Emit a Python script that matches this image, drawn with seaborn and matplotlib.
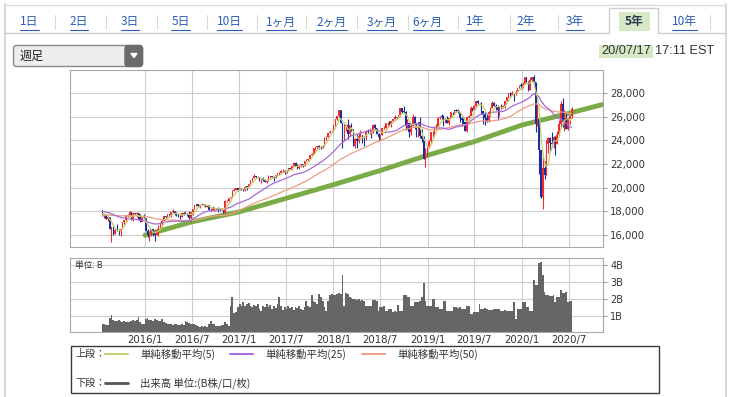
import numpy as np
import pandas as pd
import matplotlib
matplotlib.use("Agg")
import matplotlib.pyplot as plt
import matplotlib.dates as mdates
from matplotlib.patches import Rectangle, FancyBboxPatch, Polygon
import seaborn as sns

sns.set_style("white")
plt.rcParams["font.family"] = ["DejaVu Sans"]
JP = ["Noto Sans CJK JP", "DejaVu Sans"]

W, H = 739, 397

# ---- weekly data (week starting 2015-07-20 ... 2020-07-13) ----
first_week = "2015-07-20"

# closes of the 50 weeks before the window (for the moving averages)
prior_closes = [
    16553, 16662, 17001, 17098, 17138, 16988, 17280, 17113, 17009, 16544,
    16380, 16805, 17391, 17573, 17635, 17810, 17828, 17958, 17280, 17804,
    18054, 17833, 17737, 17512, 17672, 17165, 17824, 18019, 18140, 18133,
    17856, 17749, 18128, 17713, 17763, 18057, 17826, 18080, 18024, 18191,
    18272, 18232, 18011, 17849, 17898, 18016, 17947, 17730, 17760, 18086,
]

closes = [
    17568, 17690, 17373, 17477, 16460, 16643, 16102, 16433, 16385, 16315,
    16472, 17084, 17216, 17647, 17664, 17910, 17245, 17824, 17798, 17848,
    17265, 17128, 17552, 17425, 16347, 15988, 16094, 16466, 16205, 15974,
    16392, 16640, 17007, 17213, 17602, 17516, 17793, 17577, 17898, 18004,
    17774, 17740, 17535, 17501, 17873, 17807, 17865, 17675, 17400, 17949,
    18147, 18517, 18571, 18432, 18544, 18577, 18553, 18395, 18492, 18085,
    18124, 18262, 18308, 18240, 18138, 18146, 18161, 17888, 18848, 18868,
    19153, 19171, 19757, 19843, 19934, 19763, 19964, 19886, 19827, 20094,
    20071, 20269, 20624, 20822, 21005, 20903, 20915, 20597, 20663, 20656,
    20453, 20548, 20941, 21007, 20897, 20805, 21080, 21206, 21272, 21384,
    21395, 21350, 21414, 21638, 21580, 21830, 22092, 21858, 21675, 21814,
    21988, 21798, 22268, 22350, 22405, 22774, 22872, 23329, 23434, 23539,
    23422, 23358, 23558, 24231, 24329, 24652, 24754, 24719, 25296, 25803,
    26072, 26617, 25521, 24191, 25219, 25310, 24538, 25336, 24947, 23533,
    24103, 23933, 24360, 24463, 24311, 24263, 24831, 24715, 24753, 24635,
    25317, 25090, 24581, 24271, 24456, 25019, 25058, 25451, 25463, 25313,
    25669, 25790, 25965, 25917, 26155, 26744, 26458, 26447, 25340, 25444,
    24688, 25271, 25989, 25413, 24286, 25538, 24389, 24101, 22445, 23062,
    23433, 23996, 24706, 24737, 25064, 25106, 25883, 26031, 26026, 25450,
    25849, 25502, 25929, 26425, 26412, 26559, 26543, 26505, 25942, 25764,
    25586, 24815, 25984, 26090, 26719, 26600, 26922, 27332, 27154, 27192,
    26485, 26287, 25886, 25629, 26403, 26797, 27220, 26935, 26820, 26573,
    26817, 26770, 26958, 27347, 27681, 28005, 27876, 28051, 28015, 28135,
    28455, 28645, 28634, 28824, 29348, 28990, 28256, 29103, 29398, 28992,
    25409, 25865, 23186, 19174, 21637, 21053, 23719, 24242, 23775, 23724,
    24331, 23685, 24465, 25383, 27111, 25606, 25871, 25016, 25827, 26075,
    26672,
]

highs = [
    18130, 17780, 17750, 17560, 17520, 16700, 16650, 16500, 16930, 16530,
    16500, 17100, 17250, 17680, 17800, 17980, 17920, 17850, 17890, 17900,
    17850, 17780, 17560, 17750, 17430, 16530, 16120, 16500, 16510, 16240,
    16480, 16800, 17060, 17240, 17620, 17630, 17800, 17800, 17920, 18170,
    18040, 17930, 17820, 17640, 17890, 17930, 18000, 17870, 18010, 17960,
    18160, 18540, 18620, 18580, 18560, 18670, 18640, 18580, 18500, 18540,
    18280, 18450, 18340, 18310, 18400, 18250, 18250, 18160, 18930, 18930,
    19160, 19230, 19770, 19970, 20000, 19950, 19990, 19980, 19900, 20130,
    20130, 20300, 20640, 20830, 21170, 21010, 20980, 20920, 20760, 20890,
    20720, 20650, 21070, 21010, 21020, 21010, 21110, 21230, 21310, 21530,
    21540, 21480, 21480, 21680, 21680, 21830, 22180, 22180, 22010, 21900,
    22000, 21980, 22280, 22420, 22410, 22780, 22900, 23330, 23490, 23560,
    23600, 23500, 23600, 24330, 24400, 24670, 24880, 24840, 25300, 25810,
    26090, 26620, 26610, 25520, 25430, 25440, 25800, 25350, 25450, 25010,
    24200, 24540, 24620, 24860, 24490, 24400, 24900, 24960, 25090, 24800,
    25400, 25400, 25090, 24600, 24480, 25060, 25200, 25500, 25530, 25630,
    25690, 25850, 26170, 26000, 26190, 26770, 26790, 26950, 26530, 25800,
    25460, 25500, 26280, 26080, 25420, 25540, 25980, 24950, 24390, 23380,
    23480, 24070, 24720, 24800, 25250, 25410, 25890, 26060, 26240, 26150,
    25900, 26110, 25950, 26430, 26430, 26600, 26700, 26700, 26400, 25960,
    25900, 25600, 26000, 26200, 26900, 26760, 26980, 27340, 27400, 27200,
    27250, 26500, 26450, 26230, 26480, 26840, 27310, 27230, 27080, 26990,
    26960, 27100, 26980, 27350, 27700, 28030, 28090, 28170, 28070, 28290,
    28460, 28700, 28870, 28960, 29370, 29370, 29060, 29410, 29420, 29570,
    28950, 27100, 25760, 23190, 22600, 22290, 24010, 24260, 24270, 24760,
    24370, 24360, 24770, 25760, 27340, 27580, 26610, 26250, 26020, 26200,
    26880,
]

lows = [
    17560, 17400, 17330, 17140, 16450, 15370, 16000, 16050, 16340, 15980,
    15940, 16470, 16910, 17140, 17510, 17650, 17240, 17210, 17700, 17470,
    17250, 17120, 17130, 17420, 16340, 15840, 15450, 15880, 15900, 15500,
    15970, 15900, 16540, 16820, 17180, 17420, 17480, 17480, 17540, 17870,
    17650, 17630, 17520, 17330, 17490, 17690, 17810, 17600, 17360, 17060,
    17710, 18150, 18420, 18390, 18250, 18510, 18460, 18330, 18330, 18080,
    17990, 18120, 18010, 18160, 17960, 18040, 18100, 17880, 17880, 18810,
    18900, 19010, 19200, 19740, 19840, 19720, 19780, 19830, 19730, 19750,
    19830, 20040, 20270, 20600, 20790, 20830, 20830, 20560, 20410, 20560,
    20450, 20380, 20550, 20860, 20870, 20550, 20810, 20990, 21100, 21210,
    21360, 21200, 21280, 21400, 21540, 21500, 21850, 21840, 21600, 21600,
    21750, 21710, 21800, 22250, 22260, 22400, 22740, 22860, 23200, 23320,
    23250, 23240, 23350, 23530, 24060, 24300, 24640, 24690, 24790, 25230,
    25700, 26000, 25490, 23360, 24050, 24780, 24120, 24340, 24800, 23510,
    23340, 23340, 23800, 24300, 23820, 23530, 24080, 24610, 24550, 24200,
    24630, 24900, 24530, 23990, 24080, 24450, 24980, 24910, 25120, 25240,
    25130, 25590, 25800, 25790, 25910, 26060, 26360, 26320, 24900, 25000,
    24270, 24440, 25200, 25000, 24270, 24290, 24240, 23880, 22400, 21710,
    22640, 23330, 23700, 24280, 24370, 24880, 24990, 25800, 25820, 25210,
    25450, 25500, 25320, 25960, 26140, 26340, 26400, 26300, 25570, 25220,
    25330, 24800, 24680, 25950, 26060, 26480, 26700, 26720, 27090, 26970,
    26250, 25440, 25340, 25600, 25600, 26050, 26770, 26920, 26600, 25740,
    26080, 26680, 26720, 26790, 27310, 27580, 27760, 27870, 27320, 27840,
    28150, 28470, 28380, 28420, 28760, 28900, 28170, 28320, 29040, 28960,
    24680, 25220, 21150, 19090, 18210, 20740, 21070, 22940, 23230, 23480,
    23360, 22790, 23680, 24480, 25140, 25130, 24840, 24980, 24890, 25400,
    25940,
]

# weekly volume, billions
volume = [
    0.48, 0.50, 0.47, 0.45, 0.85, 1.06, 0.74, 0.70, 0.66, 0.72,
    0.68, 0.62, 0.66, 0.60, 0.64, 0.62, 0.70, 0.74, 0.66, 0.72,
    0.90, 0.60, 0.48, 0.52, 0.80, 0.84, 0.76, 0.72, 0.70, 0.78,
    0.72, 0.70, 0.66, 0.80, 0.62, 0.56, 0.50, 0.48, 0.50, 0.46,
    0.48, 0.50, 0.46, 0.44, 0.48, 0.46, 0.66, 0.62, 0.56, 0.50,
    0.52, 0.48, 0.46, 0.38, 0.36, 0.38, 0.36, 0.40, 0.36, 0.50,
    0.70, 0.52, 0.48, 0.40, 0.42, 0.38, 0.44, 0.45, 0.62, 0.48,
    0.42, 1.60, 2.10, 1.15, 1.20, 1.50, 1.70, 1.55, 1.80, 1.60,
    1.70, 1.75, 1.60, 1.50, 1.65, 1.55, 1.70, 1.40, 1.30, 1.60,
    1.50, 1.70, 1.50, 1.65, 1.40, 1.60, 1.45, 1.70, 2.10, 1.60,
    1.35, 1.50, 1.40, 1.55, 1.45, 1.50, 1.35, 1.50, 1.45, 1.55,
    1.40, 1.35, 1.50, 1.85, 1.60, 1.50, 2.20, 1.90, 1.80, 1.70,
    2.30, 2.10, 1.90, 1.50, 1.30, 1.85, 2.20, 2.30, 2.20, 2.25,
    2.30, 2.35, 2.30, 3.44, 1.60, 2.36, 2.30, 2.10, 2.05, 2.00,
    2.00, 1.95, 2.00, 1.90, 1.95, 1.90, 1.60, 1.60, 1.55, 1.60,
    1.94, 1.94, 1.90, 1.30, 1.50, 1.50, 1.55, 1.30, 1.30, 1.40,
    1.40, 1.20, 1.25, 1.20, 1.66, 1.30, 1.30, 2.24, 2.20, 2.10,
    2.10, 1.60, 1.60, 1.80, 1.80, 1.80, 1.85, 2.10, 2.94, 1.90,
    1.60, 1.60, 1.60, 2.00, 2.00, 1.50, 1.50, 1.40, 1.40, 1.90,
    1.90, 1.30, 1.30, 1.25, 1.30, 1.50, 1.50, 1.45, 1.50, 1.40,
    1.40, 1.40, 1.56, 1.56, 1.10, 1.10, 1.20, 1.20, 1.20, 1.70,
    1.40, 1.40, 1.45, 1.40, 1.34, 1.34, 1.34, 1.40, 1.40, 1.40,
    1.40, 1.30, 1.30, 1.35, 1.30, 1.30, 1.30, 1.30, 1.80, 0.80,
    1.40, 1.40, 1.40, 1.80, 1.80, 1.50, 1.50, 1.30, 1.30, 3.10,
    2.80, 2.80, 4.10, 4.20, 3.40, 2.40, 2.24, 2.24, 2.16, 2.16,
    2.20, 1.80, 2.10, 2.10, 2.50, 2.36, 2.36, 2.40, 1.80, 1.85,
    1.85,
]

# thick green trend line
trend_dates = ["2016-01-01", "2016-07-01", "2017-01-01", "2017-07-01", "2018-01-01",
               "2018-07-01", "2019-01-01", "2019-07-01", "2020-01-01", "2020-07-01",
               "2020-11-13"]
trend_values = [15970, 17100, 17950, 19090, 20250, 21450, 22750, 23900, 25300, 26300, 27070]

tick_dates = ["2016-01-01", "2016-07-01", "2017-01-01", "2017-07-01", "2018-01-01",
              "2018-07-01", "2019-01-01", "2019-07-01", "2020-01-01", "2020-07-01"]
tick_labels = ["2016/1", "2016/7", "2017/1", "2017/7", "2018/1",
               "2018/7", "2019/1", "2019/7", "2020/1", "2020/7"]
price_ticks = [16000, 18000, 20000, 22000, 24000, 26000, 28000]
volume_ticks = [1, 2, 3, 4]
volume_tick_labels = ["1B", "2B", "3B", "4B"]

tab_labels = ["1日", "2日", "3日", "5日", "10日", "1ヶ月", "2ヶ月", "3ヶ月",
              "6ヶ月", "1年", "2年", "3年", "5年", "10年"]
active_tab = "5年"

RED = "#ee2a2a"
BLUE = "#1d2c9b"
MA5_C = "#c6d06c"
MA25_C = "#a56ad8"
MA50_C = "#ee9c84"
GREEN = "#7bab47"
VOL_C = "#666666"
GRID_C = "#cdcdcd"
SPINE_C = "#a8a8a8"
LINK_C = "#2b5db3"

# ---- derived series ----
weeks = pd.date_range(first_week, periods=len(closes), freq="7D")
xs = mdates.date2num(weeks)
c = np.array(closes, dtype=float)
o = np.array([prior_closes[-1]] + closes[:-1], dtype=float)
hi = np.array(highs, dtype=float)
lo = np.array(lows, dtype=float)
all_close = pd.Series(prior_closes + closes, dtype=float)
n0 = len(prior_closes)
ma5 = all_close.rolling(5).mean().iloc[n0:].to_numpy()
ma25 = all_close.rolling(25).mean().iloc[n0:].to_numpy()
ma50 = all_close.rolling(50).mean().iloc[n0:].to_numpy()

fig = plt.figure(figsize=(W / 100, H / 100), dpi=100)
fig.patch.set_facecolor("white")

page = fig.add_axes([0, 0, 1, 1], zorder=0)
page.set_xlim(0, W)
page.set_ylim(H, 0)
page.axis("off")


def px_axes(x0, y0, x1, y1):
    return fig.add_axes([x0 / W, 1 - y1 / H, (x1 - x0) / W, (y1 - y0) / H], zorder=2)


# ---- page frame and tabs ----
page.plot([4.5, 4.5], [4, H], color="#d2d7e1", lw=1.5)
page.plot([726, 726], [4, H], color="#d2d7e1", lw=1.5)
page.plot([4.5, 726], [4.5, 4.5], color="#dcdcdc", lw=1)
page.plot([4.5, 609], [33, 33], color="#cfcfcf", lw=1)
page.plot([658, 726], [33, 33], color="#cfcfcf", lw=1)
page.plot([609, 609, 658, 658], [33, 8, 8, 33], color="#cfcfcf", lw=1)

tab_x = [29.5, 79, 130, 180.5, 229.5, 281, 331.5, 381.5, 427.5, 475, 526, 575, 634, 684]
seps = [55, 106, 157, 207, 257, 306, 357, 408, 458, 510, 558, 710]
for sx in seps:
    page.plot([sx, sx], [15, 29], color="#d9d9d9", lw=0.8)

tab_texts = []
for lab, cx in zip(tab_labels, tab_x):
    if lab == active_tab:
        page.add_patch(Rectangle((619, 12), 31, 19, color="#d6e8c6", lw=0))
        page.text(cx, 22, lab, ha="center", va="center", fontsize=8.5,
                  color="#2e3d55", family=JP, fontweight="bold")
    else:
        t = page.text(cx, 22, lab, ha="center", va="center", fontsize=8.5,
                      color=LINK_C, family=JP)
        tab_texts.append(t)

# date stamp
page.add_patch(Rectangle((599, 45), 54, 12.5, color="#d6e8c6", lw=0))
page.text(601, 51.5, "20/07/17", ha="left", va="center", fontsize=9.2,
          color="#333333", family="Liberation Sans")
page.text(655, 51.5, "17:11 EST", ha="left", va="center", fontsize=9.2,
          color="#333333", family="Liberation Sans")

# dropdown
page.add_patch(FancyBboxPatch((13.5, 45.5), 129, 21, boxstyle="round,pad=0,rounding_size=3",
                              fc="#eeeeee", ec="#8a8a8a", lw=1))
page.add_patch(FancyBboxPatch((125, 45.5), 17.5, 21, boxstyle="round,pad=0,rounding_size=3",
                              fc="#6b6b6b", ec="#6b6b6b", lw=1))
page.add_patch(Polygon([(131, 53.5), (137, 53.5), (134, 57.5)], closed=True, color="white"))
page.text(20, 56.5, "週足", ha="left", va="center", fontsize=8.7, color="#222222", family=JP)

# legend box
page.add_patch(Rectangle((71, 346), 588, 47, fill=False, ec="#3a3a3a", lw=1))
page.text(75, 354, "上段：", ha="left", va="center", fontsize=7.3, color="#333333", family=JP)
legend_rows = [(105, MA5_C, "単純移動平均(5)"), (230, MA25_C, "単純移動平均(25)"),
               (362, MA50_C, "単純移動平均(50)")]
for lx, col, lab in legend_rows:
    page.plot([lx, lx + 23], [354, 354], color=col, lw=1.4)
    page.text(lx + 35, 354, lab, ha="left", va="center", fontsize=7.5, color="#333333", family=JP)
page.text(75, 383, "下段：", ha="left", va="center", fontsize=7.3, color="#333333", family=JP)
page.plot([105, 128], [383, 383], color="#555555", lw=2)
page.text(140, 383, "出来高 単位:(B株/口/枚)", ha="left", va="center", fontsize=7.5,
          color="#333333", family=JP)

# ---- price panel ----
xlim = (mdates.date2num(pd.Timestamp("2015-03-16")), mdates.date2num(pd.Timestamp("2020-11-13")))
tick_x = mdates.date2num(pd.to_datetime(tick_dates))

ax1 = px_axes(70, 70, 603.3, 247.3)
ax1.set_facecolor("white")
ax1.grid(True, color=GRID_C, lw=0.8)
ax1.set_axisbelow(True)

sns.lineplot(x=mdates.date2num(pd.to_datetime(trend_dates)), y=trend_values, ax=ax1,
             color=GREEN, linewidth=3.5, zorder=2, sort=False)

up = c >= o
colors = np.where(up, RED, BLUE)
ax1.vlines(xs, lo, hi, colors=colors, lw=0.8, zorder=3)
body = np.maximum(np.abs(c - o), 40)
ax1.bar(xs, body, bottom=np.minimum(o, c), width=5.5, color=colors, lw=0, zorder=3)

sns.lineplot(x=xs, y=ma50, ax=ax1, color=MA50_C, linewidth=0.9, zorder=4)
sns.lineplot(x=xs, y=ma25, ax=ax1, color=MA25_C, linewidth=0.9, zorder=4)
sns.lineplot(x=xs, y=ma5, ax=ax1, color=MA5_C, linewidth=0.9, zorder=4)

ax1.set_xlim(*xlim)
ax1.set_ylim(14940, 29980)
ax1.set_xticks(tick_x)
ax1.tick_params(axis="x", length=0, labelbottom=False)
ax1.yaxis.tick_right()
ax1.set_yticks(price_ticks)
ax1.set_yticklabels([f"{v:,}" for v in price_ticks])
ax1.tick_params(axis="y", length=3, width=0.8, color="#999999", labelsize=7.3, pad=2,
                labelcolor="#333333")
ax1.set_xlabel("")
ax1.set_ylabel("")
for s in ax1.spines.values():
    s.set_color(SPINE_C)
    s.set_linewidth(0.8)

# ---- volume panel ----
ax2 = px_axes(70, 258.3, 603.3, 331.5)
ax2.set_facecolor("white")
ax2.grid(True, color=GRID_C, lw=0.8)
ax2.set_axisbelow(True)
ax2.bar(xs, volume, width=7, color=VOL_C, lw=0, zorder=2)
ax2.set_xlim(*xlim)
ax2.set_ylim(0.065, 4.40)
ax2.set_xticks(tick_x)
ax2.set_xticklabels(tick_labels)
ax2.tick_params(axis="x", length=0, pad=2.5, labelsize=7.3, labelcolor="#333333")
ax2.yaxis.tick_right()
ax2.set_yticks(volume_ticks)
ax2.set_yticklabels(volume_tick_labels)
ax2.tick_params(axis="y", length=3, width=0.8, color="#999999", labelsize=7, pad=2,
                labelcolor="#333333")
for s in ax2.spines.values():
    s.set_color(SPINE_C)
    s.set_linewidth(0.8)
ax2.text(5 / 533.3, (331.5 - 265) / 73.2, "単位: B", transform=ax2.transAxes,
         ha="left", va="center", fontsize=6.3, color="#333333", family=JP, zorder=5)

# underline the link tabs
fig.canvas.draw()
for t in tab_texts:
    bb = t.get_window_extent()
    page.plot([bb.x0, bb.x1], [29.5, 29.5], color=LINK_C, lw=0.8)

fig.savefig("out.png", dpi=100, facecolor="white")
